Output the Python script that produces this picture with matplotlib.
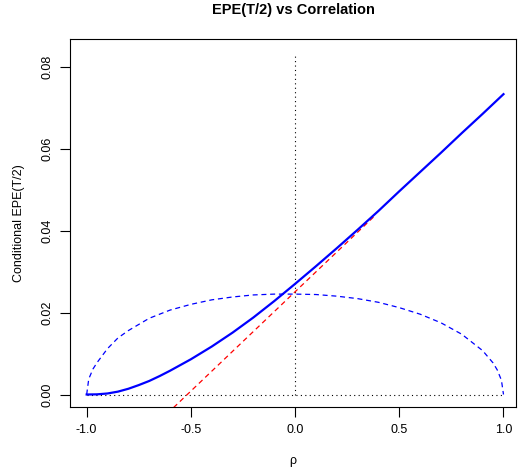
import numpy as np
import matplotlib
matplotlib.use("Agg")
import matplotlib.pyplot as plt

plt.rcParams['font.family'] = ['Liberation Sans', 'DejaVu Sans']

# conditional EPE(T/2)
rho = [-1.0, -0.95, -0.9, -0.85, -0.8, -0.75, -0.7, -0.65, -0.6, -0.5, -0.4, -0.3,
       -0.2, -0.1, 0.0, 0.1, 0.2, 0.3, 0.4, 0.5, 0.6, 0.7, 0.8, 0.9, 1.0]
epe = [0.0, 0.00004, 0.00025, 0.0007, 0.0014, 0.0023, 0.0033, 0.0045, 0.0058, 0.0086,
       0.0117, 0.0151, 0.0188, 0.0228, 0.0270, 0.0313, 0.0357, 0.0402, 0.0448,
       0.0496, 0.0543, 0.0590, 0.0638, 0.0685, 0.0733]

# linear approximation (red dashed)
lin_rho = [-1.0, 0.376]
lin_epe = [-0.0234, 0.0433]

# dashed envelope
env_rho = [-1.0, -0.99, -0.97, -0.95, -0.9, -0.85, -0.8, -0.7, -0.6, -0.5, -0.4, -0.3,
           -0.2, -0.1, 0.0, 0.1, 0.2, 0.3, 0.4, 0.5, 0.6, 0.7, 0.8, 0.9, 0.95, 0.97,
           0.99, 1.0]
env_epe = [0.0, 0.0038, 0.0062, 0.0078, 0.0112, 0.0138, 0.0156, 0.0186, 0.0206, 0.0220,
           0.0231, 0.0238, 0.0243, 0.0245, 0.0245, 0.0244, 0.0240, 0.0234, 0.0225,
           0.0212, 0.0196, 0.0175, 0.0147, 0.0107, 0.0077, 0.0060, 0.0035, 0.0]

y_top = 0.0833
xticks = [-1.0, -0.5, 0.0, 0.5, 1.0]
yticks = [0.00, 0.02, 0.04, 0.06, 0.08]

fig = plt.figure(figsize=(5.21, 4.73), dpi=100)
ax = fig.add_axes([70 / 521, 66 / 473, 446 / 521, 368 / 473])

ax.plot([-1, 1], [0, 0], color='black', lw=0.8, ls=(0, (1, 3)))
ax.plot([0, 0], [0, y_top], color='black', lw=0.8, ls=(0, (1, 3)))
ax.plot(env_rho, env_epe, color='blue', lw=0.9, ls=(0, (4, 3)))
ax.plot(lin_rho, lin_epe, color='red', lw=0.9, ls=(0, (4, 3)))
ax.plot(rho, epe, color='blue', lw=1.6)

ax.set_xlim(-1.08, 1.06)
ax.set_ylim(-0.00305, 0.08676)
ax.set_xticks(xticks)
ax.set_xticklabels(['%.1f' % t for t in xticks])
ax.set_yticks(yticks)
ax.set_yticklabels(['%.2f' % t for t in yticks], rotation=90, va='center')
ax.tick_params(direction='out', length=7, width=0.8, labelsize=9, pad=5)
for s in ax.spines.values():
    s.set_linewidth(0.8)

ax.set_xlabel('ρ', fontsize=9, labelpad=14)
ax.set_ylabel('Conditional EPE(T/2)', fontsize=9, labelpad=12)
ax.set_title('EPE(T/2) vs Correlation', fontsize=10.5, fontweight='bold', pad=18)

fig.savefig('out.png', dpi=100)
